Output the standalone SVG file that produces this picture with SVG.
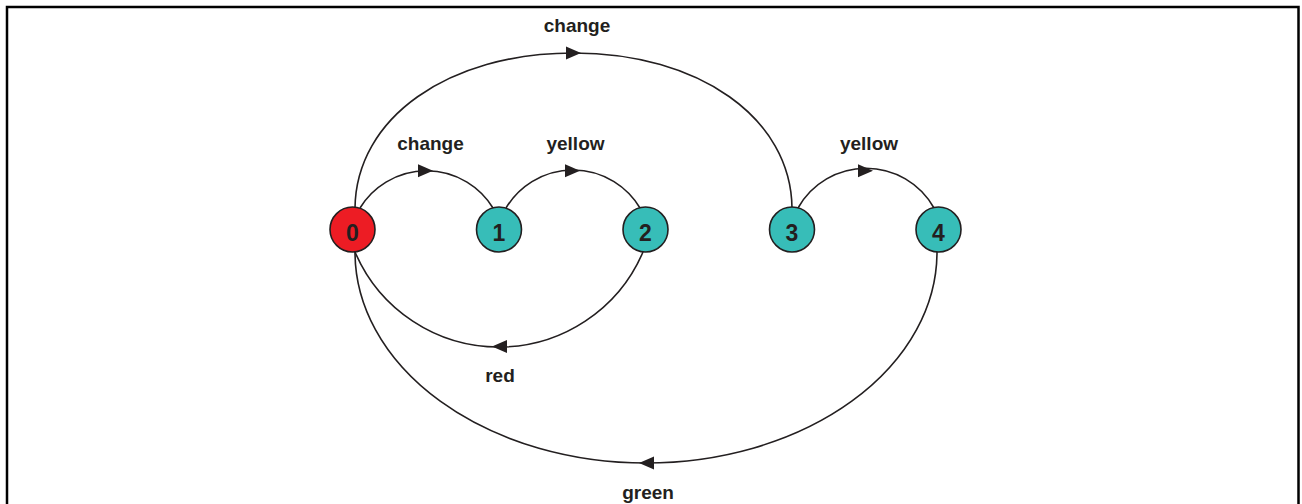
<svg xmlns="http://www.w3.org/2000/svg" width="1302" height="504" viewBox="0 0 1302 504">
<defs>
<style>
.edge{fill:none;stroke:#231F20;stroke-width:1.6}
.node circle{stroke:#231F20;stroke-width:1.6}
.start circle{fill:#ED1C24}
.state circle{fill:#37BDB8}
.num{font-family:"Liberation Sans",Arial,sans-serif;font-weight:bold;font-size:23px;fill:#231F20;text-anchor:middle}
.lbl{font-family:"Liberation Sans",Arial,sans-serif;font-weight:bold;font-size:19px;fill:#231F20;text-anchor:middle}
.arrow{fill:#231F20}
</style>
<path id="ah" d="M0,0 L-15,-6.5 L-15,6.5 Z"/>
</defs>
<rect x="7" y="7" width="1291.5" height="600" fill="#fff" stroke="#000" stroke-width="2.5"/>
<g id="connectors">
<path class="edge" d="M360,208 A78 78 0 0 1 493,208"/>
<path class="edge" d="M506,208 A78 78 0 0 1 640,208"/>
<path class="edge" d="M798,208 A78 78 0 0 1 934,208"/>
<path class="edge" d="M355,208 C356,118 448,53 573.5,53 C699,53 791,118 792,208"/>
<path class="edge" d="M643,252 A156.6 156.6 0 0 1 355,252"/>
<path class="edge" d="M937,252 A291 211 0 0 1 355,252"/>
<use href="#ah" class="arrow" x="433" y="170.8"/>
<use href="#ah" class="arrow" x="580" y="170.8"/>
<use href="#ah" class="arrow" x="873" y="170.8"/>
<use href="#ah" class="arrow" x="581" y="53"/>
<use href="#ah" class="arrow" transform="translate(492,346.6) rotate(180)"/>
<use href="#ah" class="arrow" transform="translate(639,463) rotate(180)"/>
<text class="lbl" x="430.5" y="150">change</text>
<text class="lbl" x="575.5" y="150">yellow</text>
<text class="lbl" x="869" y="150">yellow</text>
<text class="lbl" x="577" y="32">change</text>
<text class="lbl" x="500" y="382">red</text>
<text class="lbl" x="648" y="499">green</text>
</g>
<g id="node0" class="node start"><circle cx="352.5" cy="229.5" r="22.5"/><text class="num" x="352.5" y="241">0</text></g>
<g id="node1" class="node state"><circle cx="499" cy="229.5" r="22.5"/><text class="num" x="499" y="241">1</text></g>
<g id="node2" class="node state"><circle cx="645.5" cy="229.5" r="22.5"/><text class="num" x="645.5" y="241">2</text></g>
<g id="node3" class="node state"><circle cx="792" cy="229.5" r="22.5"/><text class="num" x="792" y="241">3</text></g>
<g id="node4" class="node state"><circle cx="938.5" cy="229.5" r="22.5"/><text class="num" x="938.5" y="241">4</text></g>
</svg>
